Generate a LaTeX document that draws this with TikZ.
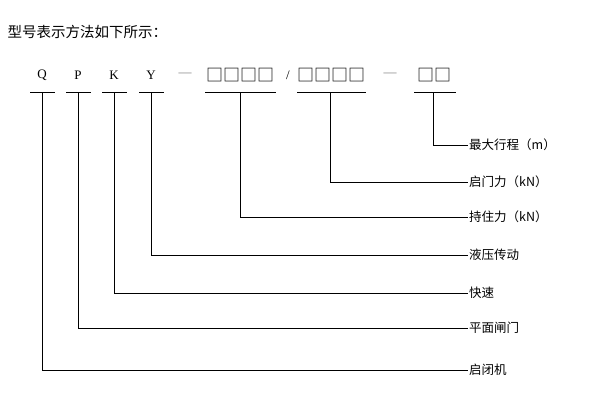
\documentclass[tikz,border=0pt]{standalone}
\usepackage{fontspec}
\setmainfont{Liberation Serif}
\newfontfamily\cjk{Noto Sans CJK SC}
\begin{document}
\begin{tikzpicture}[x=1pt,y=-1pt,
  lab/.style={anchor=west,font=\cjk\fontsize{12.5}{12.5}\selectfont,inner sep=1pt},
  let/.style={font=\fontsize{13}{13}\selectfont,inner sep=1pt},
  box/.style={font=\cjk\fontsize{17}{17}\selectfont,inner sep=1pt},
  ul/.style={line width=0.6pt},
  ln/.style={line width=0.6pt}]
\useasboundingbox (0,0) rectangle (600,400);
\node[anchor=west,font=\cjk\fontsize{14.5}{14.5}\selectfont] (title) at (4,32) {型号表示方法如下所示：};
% letters
\node[let] (q) at (42,75) {Q};
\node[let] (p) at (78,75) {P};
\node[let] (k) at (114,75) {K};
\node[let] (y) at (151,75) {Y};
\node[let,text=gray] (d1) at (185,75) {—};
\node[box] (b1) at (240,75) {□□□□};
\node[let] (sl) at (288,75) {/};
\node[box] (b2) at (331,75) {□□□□};
\node[let,text=gray] (d2) at (390,75) {—};
\node[box] (b3) at (434,75) {□□};
% underlines
\foreach \n/\a/\b in {q/30/55,p/66/91,k/102/127,y/139/164,b1/205/276,b2/297/366,b3/414/456}
  \draw[ul] (\a,92) -- (\b,92);
\foreach \n/\x in {q/42,p/78,k/114,y/151,b1/240,b2/330,b3/433}
  \coordinate (\n t) at (\x,92);
% labels
\node[lab] (l1) at (468,145) {最大行程（m）};
\node[lab] (l2) at (468,182) {启门力（kN）};
\node[lab] (l3) at (468,217) {持住力（kN）};
\node[lab] (l4) at (468,255) {液压传动};
\node[lab] (l5) at (468,293) {快速};
\node[lab] (l6) at (468,328) {平面闸门};
\node[lab] (l7) at (468,370) {启闭机};
\foreach \s/\t in {b3t/l1,b2t/l2,b1t/l3,yt/l4,kt/l5,pt/l6,qt/l7}
  \draw[ln] (\s) |- (\t.west);
\end{tikzpicture}
\end{document}
